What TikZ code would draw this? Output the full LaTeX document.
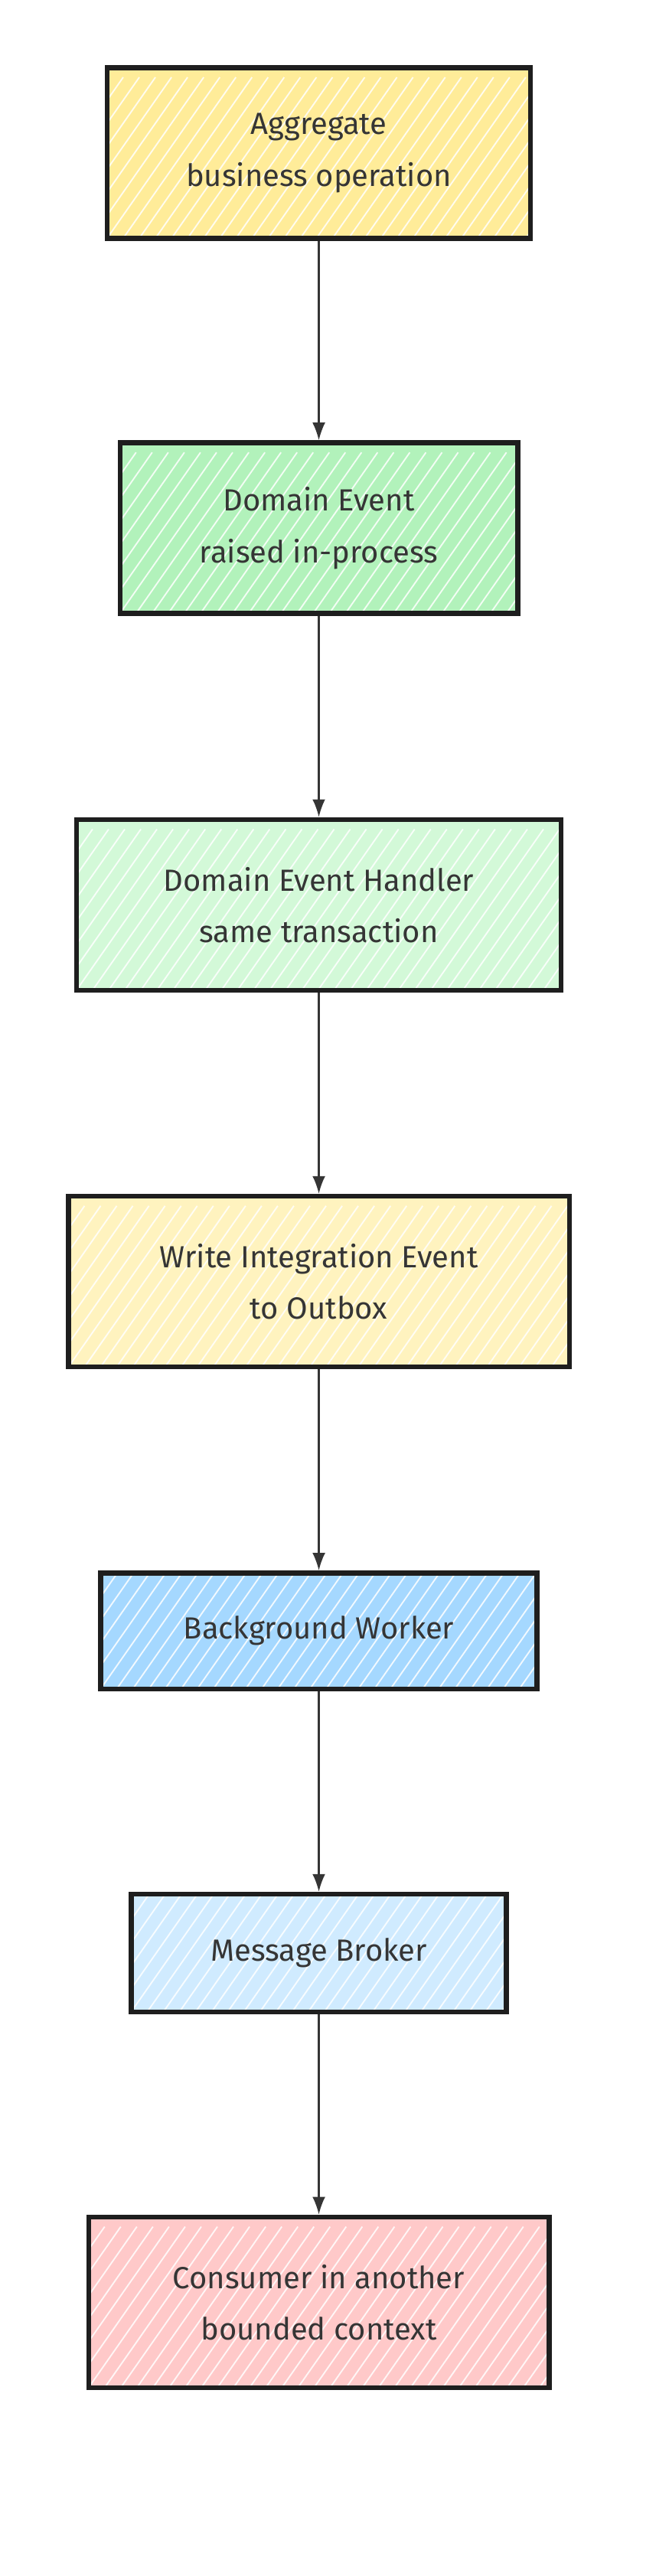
\documentclass[tikz,border=0pt]{standalone}
\usetikzlibrary{arrows.meta}
\usepackage{fontspec}
\setmainfont{Fira Sans}
\definecolor{cA}{HTML}{FFEC99}
\definecolor{cB}{HTML}{B2F2BB}
\definecolor{cC}{HTML}{D3F9D8}
\definecolor{cD}{HTML}{FFF3BF}
\definecolor{cE}{HTML}{A5D8FF}
\definecolor{cF}{HTML}{D0EBFF}
\definecolor{cG}{HTML}{FFC9C9}
\definecolor{ink}{HTML}{1E1E1E}
\begin{document}
\begin{tikzpicture}[x=1pt,y=-1pt,
  box/.style={draw=ink,line width=3pt,align=center,inner sep=0pt,font=\fontsize{19}{32}\selectfont,text=ink!90,
    path picture={\foreach \i in {-30,...,40}{\draw[white,line width=0.9pt,opacity=0.85]
      ([xshift=\i*10pt]path picture bounding box.south west) -- ++(70pt,100pt);}}},
  arr/.style={draw=ink!90,line width=1.1pt,-{Latex[length=11pt,width=8pt]}}]
\useasboundingbox (0,0) rectangle (415,1600);
\node[box,fill=cA,minimum width=263pt,minimum height=106pt] (a) at (198,95) {Aggregate\\business operation};
\node[box,fill=cB,minimum width=247pt,minimum height=106pt] (b) at (198,328) {Domain Event\\raised in-process};
\node[box,fill=cC,minimum width=301pt,minimum height=106pt] (c) at (198,562) {Domain Event Handler\\same transaction};
\node[box,fill=cD,minimum width=311pt,minimum height=106pt] (d) at (198,796) {Write Integration Event\\to Outbox};
\node[box,fill=cE,minimum width=271pt,minimum height=72pt] (e) at (198,1013) {Background Worker};
\node[box,fill=cF,minimum width=233pt,minimum height=73pt] (f) at (198,1213) {Message Broker};
\node[box,fill=cG,minimum width=286pt,minimum height=106pt] (g) at (198,1430) {Consumer in another\\bounded context};
\foreach \s/\t in {a/b,b/c,c/d,d/e,e/f,f/g}{\draw[arr] (\s) -- (\t);}
\end{tikzpicture}
\end{document}
